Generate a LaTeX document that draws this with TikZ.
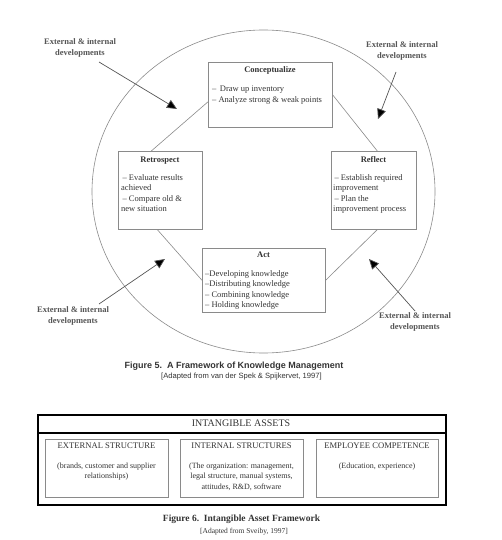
\documentclass[tikz,border=0pt]{standalone}
\usepackage{fontspec}
\setmainfont{Liberation Serif}
\newfontfamily\capsans{Liberation Sans}
\usetikzlibrary{arrows.meta}
\definecolor{txtc}{HTML}{333333}
\definecolor{linec}{HTML}{8A8A8A}
\definecolor{arrc}{HTML}{555555}
\tikzset{
  box/.style={draw=linec, line width=0.6pt, inner sep=0pt, anchor=north west},
  ttl/.style={font=\bfseries\fontsize{8.5}{10.5}\selectfont, text=txtc, anchor=base, inner sep=0pt},
  body/.style={font=\fontsize{8.5}{10.5}\selectfont, text=txtc, anchor=base west, align=left, inner sep=0pt},
  conn/.style={draw=linec, line width=0.6pt},
  extlab/.style={font=\bfseries\fontsize{8.5}{10.5}\selectfont, text=arrc, align=center, inner sep=0pt},
  arr/.style={draw=arrc, line width=0.7pt, -{Triangle[length=10pt,width=9pt,fill=black]}},
  capt/.style={text=txtc, align=center, inner sep=0pt, anchor=base},
  ibox/.style={draw=linec, line width=0.6pt, inner sep=0pt, anchor=north west, minimum width=123pt, minimum height=58pt},
  ittl/.style={font=\fontsize{8.6}{10.5}\selectfont, text=txtc, anchor=base, inner sep=0pt},
  ibody/.style={font=\fontsize{8}{10.5}\selectfont, text=txtc, anchor=base, align=center, inner sep=0pt}
}
\begin{document}
\begin{tikzpicture}[x=1pt,y=-1pt]
\useasboundingbox (0,0) rectangle (502,540);
% ellipse
\draw[draw=linec, line width=0.6pt] (263.5,191.5) ellipse [x radius=171.5pt, y radius=161.5pt];
% boxes
\node[box, minimum width=124pt, minimum height=65pt] (con) at (208,62) {};
\node[box, minimum width=84pt, minimum height=78pt] (ret) at (118,151) {};
\node[box, minimum width=85pt, minimum height=78pt] (ref) at (331,151) {};
\node[box, minimum width=123pt, minimum height=64pt] (act) at (202,248) {};
% box texts (base anchor = baseline of last line)
\node[ttl] (conT) at (270,73) {Conceptualize};
\node[body] (conB) at (212,102.5) {--\, Draw up inventory\\-- Analyze strong \& weak points};
\node[ttl] (retT) at (160,162) {Retrospect};
\node[body] (retB) at (121,211.5) {\,-- Evaluate results\\achieved\\\,-- Compare old \&\\new situation};
\node[ttl] (refT) at (373.5,162) {Reflect};
\node[body] (refB) at (333,211.5) {\,-- Establish required\\improvement\\\,-- Plan the\\improvement process};
\node[ttl] (actT) at (263.5,257) {Act};
\node[body] (actB) at (205,307.5) {--Developing knowledge\\--Distributing knowledge\\-- Combining knowledge\\-- Holding knowledge};
% connectors
\draw[conn] ([yshift=-7pt]con.west) -- ([xshift=-9pt]ret.north);
\draw[conn] (con.east) -- ([xshift=3.5pt]ref.north);
\draw[conn] ([xshift=-3pt]ret.south) -- (act.west);
\draw[conn] ([xshift=3.5pt]ref.south) -- (act.east);
% external labels and arrows
\node[extlab] (l1) at (80,48) {External \& internal\\developments};
\node[extlab] (l2) at (402,51) {External \& internal\\developments};
\node[extlab] (l3) at (73,316) {External \& internal\\developments};
\node[extlab] (l4) at (415,322) {External \& internal\\developments};
\coordinate (s1) at (99,62);   \coordinate (t1) at (177,109);
\coordinate (s2) at (396,72);  \coordinate (t2) at (378,119);
\coordinate (s3) at (99,304);  \coordinate (t3) at (165,259);
\coordinate (s4) at (415,311); \coordinate (t4) at (369,259);
\draw[arr] (s1) -- (t1);
\draw[arr] (s2) -- (t2);
\draw[arr] (s3) -- (t3);
\draw[arr] (s4) -- (t4);
% caption 5
\node[capt, font=\capsans\bfseries\fontsize{9}{10}\selectfont] (c5a) at (234,368) {Figure 5.\ \ A Framework of Knowledge Management};
\node[capt, font=\capsans\fontsize{7.6}{9}\selectfont] (c5b) at (241.5,378) {[Adapted from van der Spek \& Spijkervet, 1997]};
% intangible assets
\node[draw=black, line width=1.5pt, inner sep=0pt, anchor=north west, minimum width=408pt, minimum height=90pt] (outer) at (37,414) {};
\coordinate (sepL) at (37,433);
\coordinate (sepR) at (445,433);
\draw[line width=1.5pt] (sepL) -- (sepR);
\node[capt, font=\fontsize{10}{11}\selectfont] (ia) at (241,426.5) {INTANGIBLE ASSETS};
\node[ibox] (b1) at (45,439) {};
\node[ibox] (b2) at (180,439) {};
\node[ibox, minimum width=122pt] (b3) at (316,439) {};
\node[ittl] (b1t) at (106.5,448) {EXTERNAL STRUCTURE};
\node[ittl] (b2t) at (241.5,448) {INTERNAL STRUCTURES};
\node[ittl] (b3t) at (377,448) {EMPLOYEE COMPETENCE};
\node[ibody] (b1b) at (106.5,478.5) {(brands, customer and supplier\\relationships)};
\node[ibody] (b2b) at (241.5,489) {(The organization: management,\\legal structure, manual systems,\\attitudes, R\&D, software};
\node[ibody] (b3b) at (377,468) {(Education, experience)};
% caption 6
\node[capt, font=\bfseries\fontsize{9.5}{11}\selectfont] (c6a) at (241.5,521) {Figure 6.\ \ Intangible Asset Framework};
\node[capt, font=\fontsize{7.5}{9}\selectfont] (c6b) at (244,533.5) {[Adapted from Sveiby, 1997]};
\end{tikzpicture}
\end{document}
